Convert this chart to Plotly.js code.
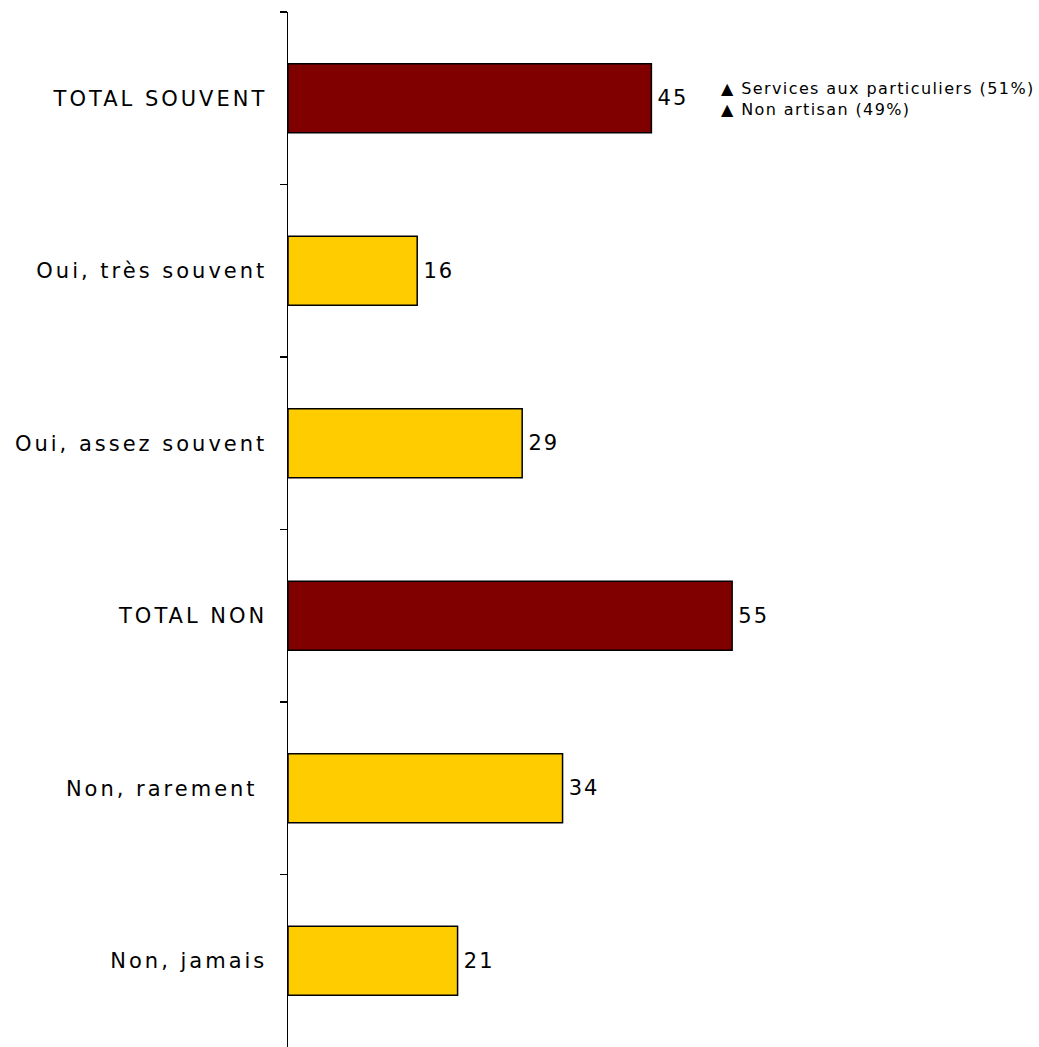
<!DOCTYPE html>
<html>
<head>
<meta charset="utf-8">
<script src="https://cdn.plot.ly/plotly-3.0.1.min.js"></script>
<style>
html,body{margin:0;padding:0;background:#fff;}
#chart{width:1039px;height:1047px;}
#chart .ytick text{letter-spacing:3px;}
#chart text.bartext{letter-spacing:2px;}
#chart text.annotation-text{letter-spacing:1.4px;}
</style>
</head>
<body>
<div id="chart"></div>
<script>
const categories = ["TOTAL SOUVENT", "Oui, très souvent", "Oui, assez souvent", "TOTAL NON", "Non, rarement\u00a0", "Non, jamais"];
const values = [45, 16, 29, 55, 34, 21];
const barColors = ["#800000", "#FFCC00", "#FFCC00", "#800000", "#FFCC00", "#FFCC00"];
const notes = ["▲ Services aux particuliers (51%)", "▲ Non artisan (49%)"];

const font = "DejaVu Sans, Verdana, sans-serif";

const trace = {
  type: "bar",
  orientation: "h",
  y: categories,
  x: values,
  width: 0.4,
  marker: {color: barColors, line: {color: "#000000", width: 1.5}},
  text: values.map(v => "\u2009" + v),
  textposition: "outside",
  textfont: {family: font, size: 21, color: "#000000"},
  cliponaxis: false,
  hoverinfo: "none"
};

const layout = {
  width: 1039,
  height: 1047,
  margin: {l: 288, r: 0, t: 12, b: 0, pad: 0},
  paper_bgcolor: "#ffffff",
  plot_bgcolor: "#ffffff",
  showlegend: false,
  font: {family: font, color: "#000000"},
  xaxis: {visible: false, range: [0, 93], fixedrange: true},
  yaxis: {
    type: "category",
    categoryorder: "array",
    categoryarray: categories,
    range: [5.5, -0.5],
    showline: true,
    linecolor: "#000000",
    linewidth: 1.5,
    ticks: "outside",
    tickson: "boundaries",
    ticklen: 7,
    tickwidth: 1.5,
    tickcolor: "#000000",
    showgrid: false,
    zeroline: false,
    ticklabelstandoff: 15,
    tickfont: {family: font, size: 21, color: "#000000"}
  },
  annotations: [
    {xref: "x", yref: "y", x: 53.4, y: 0, yshift: -0.5, text: notes.join("<br>"), align: "left", showarrow: false, xanchor: "left", yanchor: "middle", font: {family: font, size: 16, color: "#000000"}}
  ]
};

Plotly.newPlot("chart", [trace], layout, {staticPlot: true, displayModeBar: false});
</script>
</body>
</html>
